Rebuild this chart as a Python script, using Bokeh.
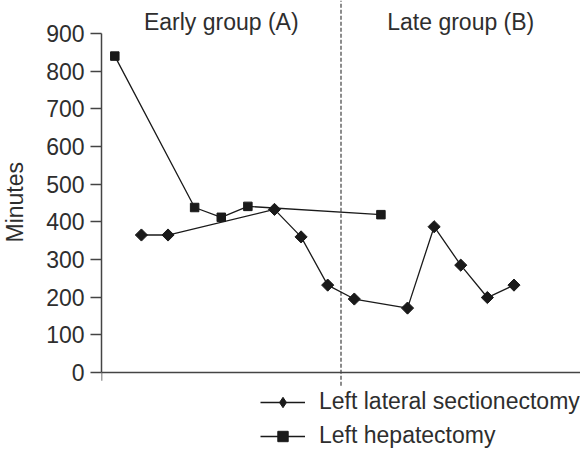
from bokeh.plotting import figure
from bokeh.models import (Range1d, Span, FixedTicker, Legend, LegendItem,
                          ColumnDataSource, Title)
from bokeh.core.properties import value
from bokeh.embed import file_html
from bokeh.resources import INLINE
import math

# Operating time per consecutive case, split by procedure
lls_case = [2, 3, 7, 8, 9, 10, 12, 13, 14, 15, 16]
lls_minutes = [365, 365, 433, 360, 232, 195, 171, 387, 285, 199, 232]
lh_case = [1, 4, 5, 6, 11]
lh_minutes = [840, 438, 412, 441, 419]

group_names = ["Early group (A)", "Late group (B)"]
group_centers = [5, 14]
group_split = 9.5
x_start, x_end = 0.5, 18.5
y_ticks = [0, 100, 200, 300, 400, 500, 600, 700, 800, 900]

FONT = "Liberation Sans"
TEXT = "#2e2e2e"
INK = "#1a1a1a"
AXIS = "#444444"
FS = "23px"

# the frame covers the full height so the legend under the axis is not clipped;
# the canvas is pulled left so the frame starts 99px into the page
p = figure(width=597, height=450, output_backend="svg", toolbar_location=None,
           x_range=Range1d(x_start, x_end), y_range=Range1d(-207.1, 987.6),
           min_border_left=116, min_border_right=0, min_border_top=0,
           min_border_bottom=0, margin=(0, 0, 0, -17))
p.outline_line_color = None
p.grid.visible = False
p.background_fill_color = "white"
p.xaxis.visible = False

# y axis, drawn only over 0..900
ya = p.yaxis[0]
ya.ticker = FixedTicker(ticks=y_ticks)
ya.bounds = (0, 900)
ya.major_label_text_font = FONT
ya.major_label_text_font_size = FS
ya.major_label_text_color = TEXT
ya.major_label_standoff = 6
ya.major_tick_in = 0
ya.major_tick_out = 11
ya.minor_tick_line_color = None
ya.axis_line_color = AXIS
ya.axis_line_width = 1.5
ya.major_tick_line_color = AXIS
ya.major_tick_line_width = 1.5

p.add_layout(Title(text="Minutes", align="left", offset=208,
                   text_font=FONT, text_font_size=FS, text_font_style="normal",
                   text_color=TEXT, standoff=32), "left")

# horizontal axis line at zero with its end tick
p.add_layout(Span(location=0, dimension="width", line_color=AXIS,
                  line_width=1.5))
p.segment(x0=[x_start], y0=[0], x1=[x_start], y1=[-22],
          line_color=AXIS, line_width=1.5)

# divider between the two groups
p.segment(x0=[group_split], y0=[-35], x1=[group_split], y1=[987.6],
          line_color="#666666", line_width=1.5, line_dash="4 2")

# group headings
p.text(x=group_centers, y=[930, 930], text=group_names,
       text_font=value(FONT), text_font_size=FS, text_color=TEXT,
       text_align="center", text_baseline="alphabetic")

lls_src = ColumnDataSource(dict(x=lls_case, y=lls_minutes))
lh_src = ColumnDataSource(dict(x=lh_case, y=lh_minutes))

lls_line = p.line("x", "y", source=lls_src, line_color=INK, line_width=1.3)
p.scatter("x", "y", source=lls_src, marker="square", size=8.6,
          angle=math.pi / 4, fill_color=INK, line_color=INK)
# diamond glyph sitting inside each rotated square; it supplies the legend swatch
lls_key = p.scatter("x", "y", source=lls_src, marker="diamond", size=10,
                    fill_color=INK, line_color=INK)
lh_line = p.line("x", "y", source=lh_src, line_color=INK, line_width=1.3)
lh_pts = p.scatter("x", "y", source=lh_src, marker="square", size=8.5,
                   fill_color=INK, line_color=INK)

legend = Legend(items=[
    LegendItem(label="Left lateral sectionectomy", renderers=[lls_line, lls_key]),
    LegendItem(label="Left hepatectomy", renderers=[lh_line, lh_pts]),
], location=(159, 1))
legend.label_text_font = FONT
legend.label_text_font_size = FS
legend.label_text_color = TEXT
legend.glyph_width = 45
legend.glyph_height = 26
legend.label_standoff = 14
legend.spacing = 7
legend.padding = 0
legend.margin = 0
legend.border_line_color = None
legend.background_fill_alpha = 0
p.add_layout(legend, "center")

open("out.html", "w").write(file_html(p, INLINE))
